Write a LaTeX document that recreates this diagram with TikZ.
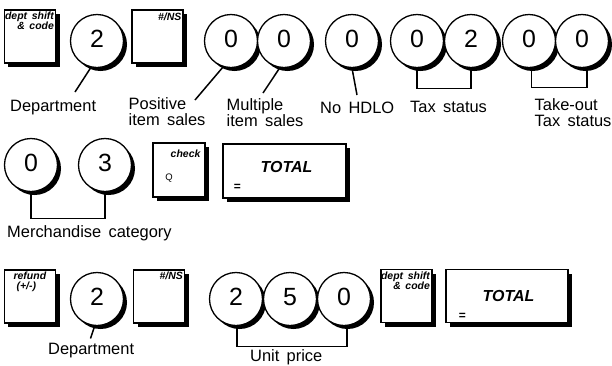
\documentclass[tikz,border=0pt]{standalone}
\usepackage{fontspec}
\setmainfont{Liberation Sans}[WordSpace=1.6]
\usetikzlibrary{shadows}
\begin{document}
\begin{tikzpicture}[x=1bp,y=-1bp,
  digit/.style={circle,draw,line width=1.3bp,fill=white,minimum size=53bp,inner sep=0pt,
    font=\fontsize{25}{25}\selectfont,text depth=4bp,
    drop shadow={shadow xshift=3.5bp,shadow yshift=-3.5bp,opacity=1,fill=black}},
  keybox/.style={rectangle,draw,line width=1.2bp,fill=white,inner sep=0pt,
    minimum width=51bp,minimum height=53bp,
    drop shadow={shadow xshift=4bp,shadow yshift=-4bp,opacity=1,fill=black}},
  totbox/.style={keybox,minimum width=122bp},
  klbl/.style={inner sep=0pt,font=\fontsize{10.5}{10}\selectfont\bfseries\itshape},
  totlbl/.style={inner sep=0pt,font=\fontsize{16}{16}\selectfont\bfseries\itshape},
  eqlbl/.style={inner sep=0pt,font=\fontsize{12}{12}\selectfont\bfseries},
  lbl/.style={inner sep=0pt,font=\fontsize{16.5}{16}\selectfont},
  link/.style={line width=1.5bp}]
\useasboundingbox (0,0) rectangle (612,365);
\clip (0,0) rectangle (612,365);

% ---------- row 1 ----------
\node[keybox] (k1) at (30,36.5) {};
\node[klbl,align=right,anchor=north east] (k1t) at ([xshift=-2bp,yshift=-2.5bp]k1.north east) {dept shift\\\& code};
\node[digit] (a1) at (97,41) {2};
\node[keybox] (k2) at (157.5,36.5) {};
\node[klbl,anchor=north east] (k2t) at ([xshift=-2bp,yshift=-3bp]k2.north east) {\#/NS};
\node[digit] (a2) at (231,41) {0};
\node[digit] (a3) at (284,41) {0};
\node[digit] (a4) at (352,41) {0};
\node[digit] (a5) at (417,41) {0};
\node[digit] (a6) at (471,41) {2};
\node[digit] (a7) at (529,41) {0};
\node[digit] (a8) at (582,41) {0};

\coordinate (e1) at (75,92);
\coordinate (e2) at (195,100);
\coordinate (e3) at (263,93);
\coordinate (e4) at (357,95);
\draw[link] (a1.257) -- (e1);
\draw[link] (a2.253) -- (e2);
\draw[link] (a3.261) -- (e3);
\draw[link] (a4.south) -- (e4);
\draw[link] (a5.south) -- ++(0,20.5) -| (a6.south);
\draw[link] ([xshift=2.5bp]a7.south) -- ++(0,19.5) -| ([xshift=5bp]a8.south);

\node[lbl,anchor=base west] (t1) at (10,111.5) {Department};
\node[lbl,anchor=north west,align=left] (t2) at (128.5,97.5) {Positive\\item sales};
\node[lbl,anchor=north west,align=left] (t3) at (226.5,98) {Multiple\\item sales};
\node[lbl,anchor=base west] (t4) at (320,113) {No HDLO};
\node[lbl,anchor=base west] (t5) at (410,112) {Tax status};
\node[lbl,anchor=north west,align=left] (t6) at (534.5,98) {Take-out\\Tax status};

% ---------- row 2 ----------
\node[digit] (b1) at (31,165) {0};
\node[digit] (b2) at (105,165) {3};
\draw[link] (b1.south) -- ++(0,26.5) -| (b2.south);
\node[lbl,anchor=base west] (t7) at (7,237) {Merchandise category};
\node[keybox,minimum width=52bp,minimum height=54bp] (k3) at (179,170) {};
\node[klbl,anchor=north east] (k3t) at ([xshift=-5bp,yshift=-7bp]k3.north east) {check};
\node[inner sep=0pt,font=\fontsize{9.5}{10}\selectfont] (k3q) at (169,178) {Q};
\node[totbox,minimum width=123bp,minimum height=54bp] (k4) at (284.5,171) {};
\node[totlbl] (k4t) at ([xshift=2bp,yshift=4bp]k4.center) {TOTAL};
\node[eqlbl] (k4e) at ([xshift=15bp,yshift=11bp]k4.south west) {=};

% ---------- row 3 ----------
\node[keybox] (k5) at (30,296.5) {};
\node[klbl,align=left,anchor=north west] (k5t) at ([xshift=9.5bp,yshift=-2.5bp]k5.north west) {refund\\\hspace*{3bp}(+/-)};
\node[digit] (d1) at (97,299) {2};
\node[keybox] (k6) at (159,296.5) {};
\node[klbl,anchor=north east] (k6t) at ([xshift=-2bp,yshift=-2.5bp]k6.north east) {\#/NS};
\node[digit] (d2) at (236,299) {2};
\node[digit] (d3) at (290,299) {5};
\node[digit] (d4) at (344,299) {0};
\node[keybox] (k7) at (406.5,296) {};
\node[klbl,align=right,anchor=north east] (k7t) at ([xshift=-2.5bp,yshift=-2.5bp]k7.north east) {dept shift\\\& code};
\node[totbox] (k8) at (507,296) {};
\node[totlbl] (k8t) at ([xshift=1.5bp]k8.center) {TOTAL};
\node[eqlbl] (k8e) at ([xshift=17bp,yshift=7bp]k8.south west) {=};

\coordinate (e5) at (90.5,338.5);
\draw[link] (d1.265) -- (e5);
\draw[link] ([xshift=1bp]d2.south) -- ++(0,20.5) -| ([xshift=3bp]d4.south);
\node[lbl,anchor=base west] (t8) at (48,354.5) {Department};
\node[lbl,anchor=base west] (t9) at (250,361) {Unit price};
\end{tikzpicture}
\end{document}
